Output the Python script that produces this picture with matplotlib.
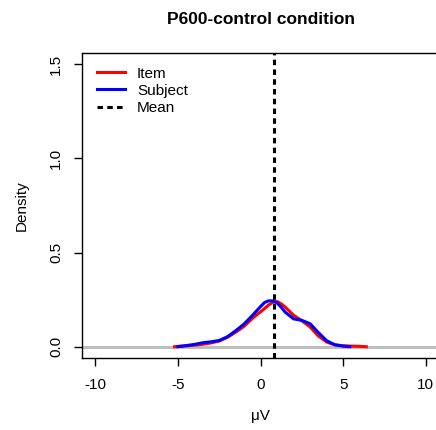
import matplotlib
matplotlib.use("Agg")
import matplotlib.pyplot as plt
from matplotlib.lines import Line2D

plt.rcParams['font.family'] = ['Liberation Sans', 'DejaVu Sans']

# Data
x_item = [-5.2, -5, -4.5, -4, -3.5, -3, -2.5, -2, -1.5, -1, -0.5, 0, 0.25, 0.5, 0.75, 1, 1.25, 1.5, 2, 2.5, 3, 3.5, 4, 4.5, 5, 5.5, 6, 6.4]
y_item = [0.000, 0.002, 0.004, 0.008, 0.013, 0.020, 0.030, 0.050, 0.077, 0.108, 0.150, 0.185, 0.203, 0.222, 0.236, 0.240, 0.228, 0.210, 0.167, 0.138, 0.105, 0.057, 0.025, 0.010, 0.005, 0.003, 0.002, 0.000]

x_subject = [-5.0, -4.5, -4, -3.5, -3, -2.5, -2, -1.5, -1, -0.5, 0, 0.25, 0.5, 0.75, 1, 1.25, 1.5, 2, 2.5, 3, 3.5, 4, 4.5, 5, 5.4]
y_subject = [0.000, 0.006, 0.012, 0.021, 0.026, 0.033, 0.053, 0.085, 0.120, 0.165, 0.213, 0.235, 0.244, 0.243, 0.233, 0.210, 0.183, 0.148, 0.140, 0.122, 0.075, 0.032, 0.010, 0.003, 0.000]

mean_value = 0.82
x_ticks = [-10, -5, 0, 5, 10]
y_ticks = [0.0, 0.5, 1.0, 1.5]
y_tick_labels = ["0.0", "0.5", "1.0", "1.5"]

W, H = 436, 430
fig = plt.figure(figsize=(W / 100, H / 100), dpi=100)
left, right, top, bottom = 82, 439, 53, 358
ax = fig.add_axes([left / W, 1 - bottom / H, (right - left) / W, (bottom - top) / H])

ax.axhline(0, color='#bebebe', lw=2.2, zorder=1)
ax.plot(x_item, y_item, color='#ff0000', lw=2.2, zorder=2, label='Item')
ax.plot(x_subject, y_subject, color='#0000ff', lw=2.2, zorder=3, label='Subject')
ax.axvline(mean_value, color='black', lw=2.2, linestyle=(0, (1.8, 1.4)), zorder=4)

ax.set_xlim(-10.8, 10.8)
ax.set_ylim(-0.06, 1.56)
ax.set_xticks(x_ticks)
ax.set_xticklabels([str(t) for t in x_ticks])
ax.set_yticks(y_ticks)
ax.set_yticklabels(y_tick_labels, rotation=90, va='center')

for s in ax.spines.values():
    s.set_linewidth(1.0)
    s.set_color('black')

ax.tick_params(axis='both', labelsize=11, length=5.5, width=1.0, direction='out')
ax.tick_params(axis='x', pad=9)
ax.tick_params(axis='y', pad=8)

ax.set_xlabel('μV', fontsize=11, labelpad=12)
ax.set_ylabel('Density', fontsize=11, labelpad=15)
ax.set_title('P600-control condition', fontsize=12.5, fontweight='bold', pad=21)

handles = [Line2D([], [], color='#ff0000', lw=2.2),
           Line2D([], [], color='#0000ff', lw=2.2),
           Line2D([], [], color='black', lw=2.2, linestyle=(0, (1.8, 1.4)))]
ax.legend(handles, ['Item', 'Subject', 'Mean'], loc='upper left',
          bbox_to_anchor=(0.015, 0.985), frameon=False, fontsize=11,
          handlelength=1.85, handletextpad=0.8, labelspacing=0.2,
          borderaxespad=0.2)

fig.savefig('out.png', dpi=100)
